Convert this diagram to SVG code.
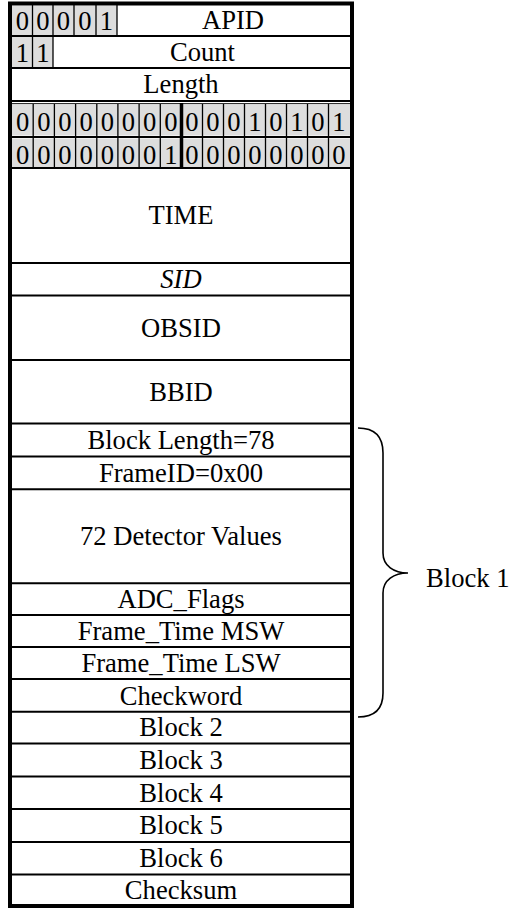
<svg xmlns="http://www.w3.org/2000/svg" width="510" height="908" viewBox="0 0 510 908">
<style>
text{font-family:"Liberation Serif","Times New Roman",serif;font-size:26.6px;fill:#000;text-anchor:middle}
.it{font-style:italic}
.hl{stroke:#000;stroke-width:2}
.cl{stroke:#000;stroke-width:1.3}
.cell{fill:#dddddd}
.brace{fill:none;stroke:#000;stroke-width:1.6}
</style>
<rect x="0" y="0" width="510" height="908" fill="#fff"/>

<g id="row-apid">
<rect class="cell" x="12" y="6" width="105" height="29"/>
<line class="cl" x1="32.5" y1="5" x2="32.5" y2="35"/>
<line class="cl" x1="53" y1="5" x2="53" y2="35"/>
<line class="cl" x1="74" y1="5" x2="74" y2="35"/>
<line class="cl" x1="96" y1="5" x2="96" y2="35"/>
<line class="cl" x1="117" y1="5" x2="117" y2="35"/>
<text x="22.5" y="30">0</text><text x="43" y="30">0</text><text x="63.5" y="30">0</text><text x="85" y="30">0</text><text x="106.5" y="30">1</text>
<text x="233" y="29">APID</text>
<line class="hl" x1="10" y1="36" x2="352" y2="36"/>
</g>

<g id="row-count">
<rect class="cell" x="12" y="37" width="41" height="30"/>
<line class="cl" x1="32.5" y1="36" x2="32.5" y2="68"/>
<line class="cl" x1="53" y1="36" x2="53" y2="68"/>
<text x="22.5" y="62">1</text><text x="43" y="62">1</text>
<text x="202.5" y="61">Count</text>
<line class="hl" x1="10" y1="68" x2="352" y2="68"/>
</g>

<g id="row-length">
<text x="181" y="93">Length</text>
<line class="hl" x1="10" y1="101" x2="352" y2="101"/>
<line stroke="#000" stroke-width="1" x1="10" y1="103.7" x2="352" y2="103.7"/>
</g>

<g id="row-bits1">
<rect class="cell" x="12" y="104.5" width="338" height="31"/>
<g class="cl">
<line class="cl" x1="33.2" y1="104" x2="33.2" y2="137"/><line class="cl" x1="54.4" y1="104" x2="54.4" y2="137"/><line class="cl" x1="75.6" y1="104" x2="75.6" y2="137"/><line class="cl" x1="96.8" y1="104" x2="96.8" y2="137"/><line class="cl" x1="117.9" y1="104" x2="117.9" y2="137"/><line class="cl" x1="139.1" y1="104" x2="139.1" y2="137"/><line class="cl" x1="160.3" y1="104" x2="160.3" y2="137"/>
<line class="cl" x1="202.5" y1="104" x2="202.5" y2="137"/><line class="cl" x1="223.5" y1="104" x2="223.5" y2="137"/><line class="cl" x1="244.5" y1="104" x2="244.5" y2="137"/><line class="cl" x1="265.5" y1="104" x2="265.5" y2="137"/><line class="cl" x1="286.5" y1="104" x2="286.5" y2="137"/><line class="cl" x1="307.5" y1="104" x2="307.5" y2="137"/><line class="cl" x1="328.5" y1="104" x2="328.5" y2="137"/>
</g>
<text x="22.6" y="131">0</text><text x="43.8" y="131">0</text><text x="65" y="131">0</text><text x="86.2" y="131">0</text><text x="107.4" y="131">0</text><text x="128.5" y="131">0</text><text x="149.7" y="131">0</text><text x="170.9" y="131">0</text>
<text x="192" y="131">0</text><text x="213" y="131">0</text><text x="234" y="131">0</text><text x="255" y="131">1</text><text x="276" y="131">0</text><text x="297" y="131">1</text><text x="318" y="131">0</text><text x="339" y="131">1</text>
<line class="hl" x1="10" y1="137" x2="352" y2="137"/>
</g>

<g id="row-bits2">
<rect class="cell" x="12" y="138.5" width="338" height="28.5"/>
<line class="cl" x1="33.2" y1="137" x2="33.2" y2="168"/><line class="cl" x1="54.4" y1="137" x2="54.4" y2="168"/><line class="cl" x1="75.6" y1="137" x2="75.6" y2="168"/><line class="cl" x1="96.8" y1="137" x2="96.8" y2="168"/><line class="cl" x1="117.9" y1="137" x2="117.9" y2="168"/><line class="cl" x1="139.1" y1="137" x2="139.1" y2="168"/><line class="cl" x1="160.3" y1="137" x2="160.3" y2="168"/>
<line class="cl" x1="202.5" y1="137" x2="202.5" y2="168"/><line class="cl" x1="223.5" y1="137" x2="223.5" y2="168"/><line class="cl" x1="244.5" y1="137" x2="244.5" y2="168"/><line class="cl" x1="265.5" y1="137" x2="265.5" y2="168"/><line class="cl" x1="286.5" y1="137" x2="286.5" y2="168"/><line class="cl" x1="307.5" y1="137" x2="307.5" y2="168"/><line class="cl" x1="328.5" y1="137" x2="328.5" y2="168"/>
<text x="22.6" y="163.5">0</text><text x="43.8" y="163.5">0</text><text x="65" y="163.5">0</text><text x="86.2" y="163.5">0</text><text x="107.4" y="163.5">0</text><text x="128.5" y="163.5">0</text><text x="149.7" y="163.5">0</text><text x="170.9" y="163.5">1</text>
<text x="192" y="163.5">0</text><text x="213" y="163.5">0</text><text x="234" y="163.5">0</text><text x="255" y="163.5">0</text><text x="276" y="163.5">0</text><text x="297" y="163.5">0</text><text x="318" y="163.5">0</text><text x="339" y="163.5">0</text>
<line class="hl" x1="10" y1="168" x2="352" y2="168"/>
<line stroke="#000" stroke-width="3.5" x1="181.5" y1="103" x2="181.5" y2="168"/>
</g>

<g id="row-time">
<text x="181" y="224">TIME</text>
<line class="hl" x1="10" y1="263" x2="352" y2="263"/>
</g>
<g id="row-sid">
<text class="it" x="181" y="288">SID</text>
<line class="hl" x1="10" y1="295.5" x2="352" y2="295.5"/>
</g>
<g id="row-obsid">
<text x="181" y="337">OBSID</text>
<line class="hl" x1="10" y1="360" x2="352" y2="360"/>
</g>
<g id="row-bbid">
<text x="181" y="401">BBID</text>
<line class="hl" x1="10" y1="423.5" x2="352" y2="423.5"/>
</g>
<g id="row-blocklength">
<text x="181" y="449">Block Length=78</text>
<line class="hl" x1="10" y1="456.5" x2="352" y2="456.5"/>
</g>
<g id="row-frameid">
<text x="181" y="482">FrameID=0x00</text>
<line class="hl" x1="10" y1="489.3" x2="352" y2="489.3"/>
</g>
<g id="row-detectors">
<text x="181" y="545">72 Detector Values</text>
<line class="hl" x1="10" y1="583.3" x2="352" y2="583.3"/>
</g>
<g id="row-adcflags">
<text x="181" y="608">ADC_Flags</text>
<line class="hl" x1="10" y1="615" x2="352" y2="615"/>
</g>
<g id="row-msw">
<text x="181" y="640">Frame_Time MSW</text>
<line class="hl" x1="10" y1="647" x2="352" y2="647"/>
</g>
<g id="row-lsw">
<text x="181" y="672">Frame_Time LSW</text>
<line class="hl" x1="10" y1="679" x2="352" y2="679"/>
</g>
<g id="row-checkword">
<text x="181" y="704.5">Checkword</text>
<line class="hl" x1="10" y1="711.7" x2="352" y2="711.7"/>
</g>
<g id="row-block2">
<text x="181" y="736">Block 2</text>
<line class="hl" x1="10" y1="743.5" x2="352" y2="743.5"/>
</g>
<g id="row-block3">
<text x="181" y="769">Block 3</text>
<line class="hl" x1="10" y1="776.5" x2="352" y2="776.5"/>
</g>
<g id="row-block4">
<text x="181" y="801.5">Block 4</text>
<line class="hl" x1="10" y1="809" x2="352" y2="809"/>
</g>
<g id="row-block5">
<text x="181" y="834">Block 5</text>
<line class="hl" x1="10" y1="842" x2="352" y2="842"/>
</g>
<g id="row-block6">
<text x="181" y="866.5">Block 6</text>
<line class="hl" x1="10" y1="874.5" x2="352" y2="874.5"/>
</g>
<g id="row-checksum">
<text x="181" y="898.5">Checksum</text>
</g>

<g id="frame">
<rect x="10" y="3.5" width="342" height="902.5" fill="none" stroke="#000" stroke-width="4"/>
</g>

<g id="connectors">
<path class="brace" d="M358,428 C374,428 383,436 383,453 L383,553 C383,566 394,573 408,573 C394,573 383,580 383,593 L383,693 C383,710 374,717 358,717"/>
</g>

<g id="label-block1">
<text x="426" y="587" style="text-anchor:start">Block 1</text>
</g>
</svg>
